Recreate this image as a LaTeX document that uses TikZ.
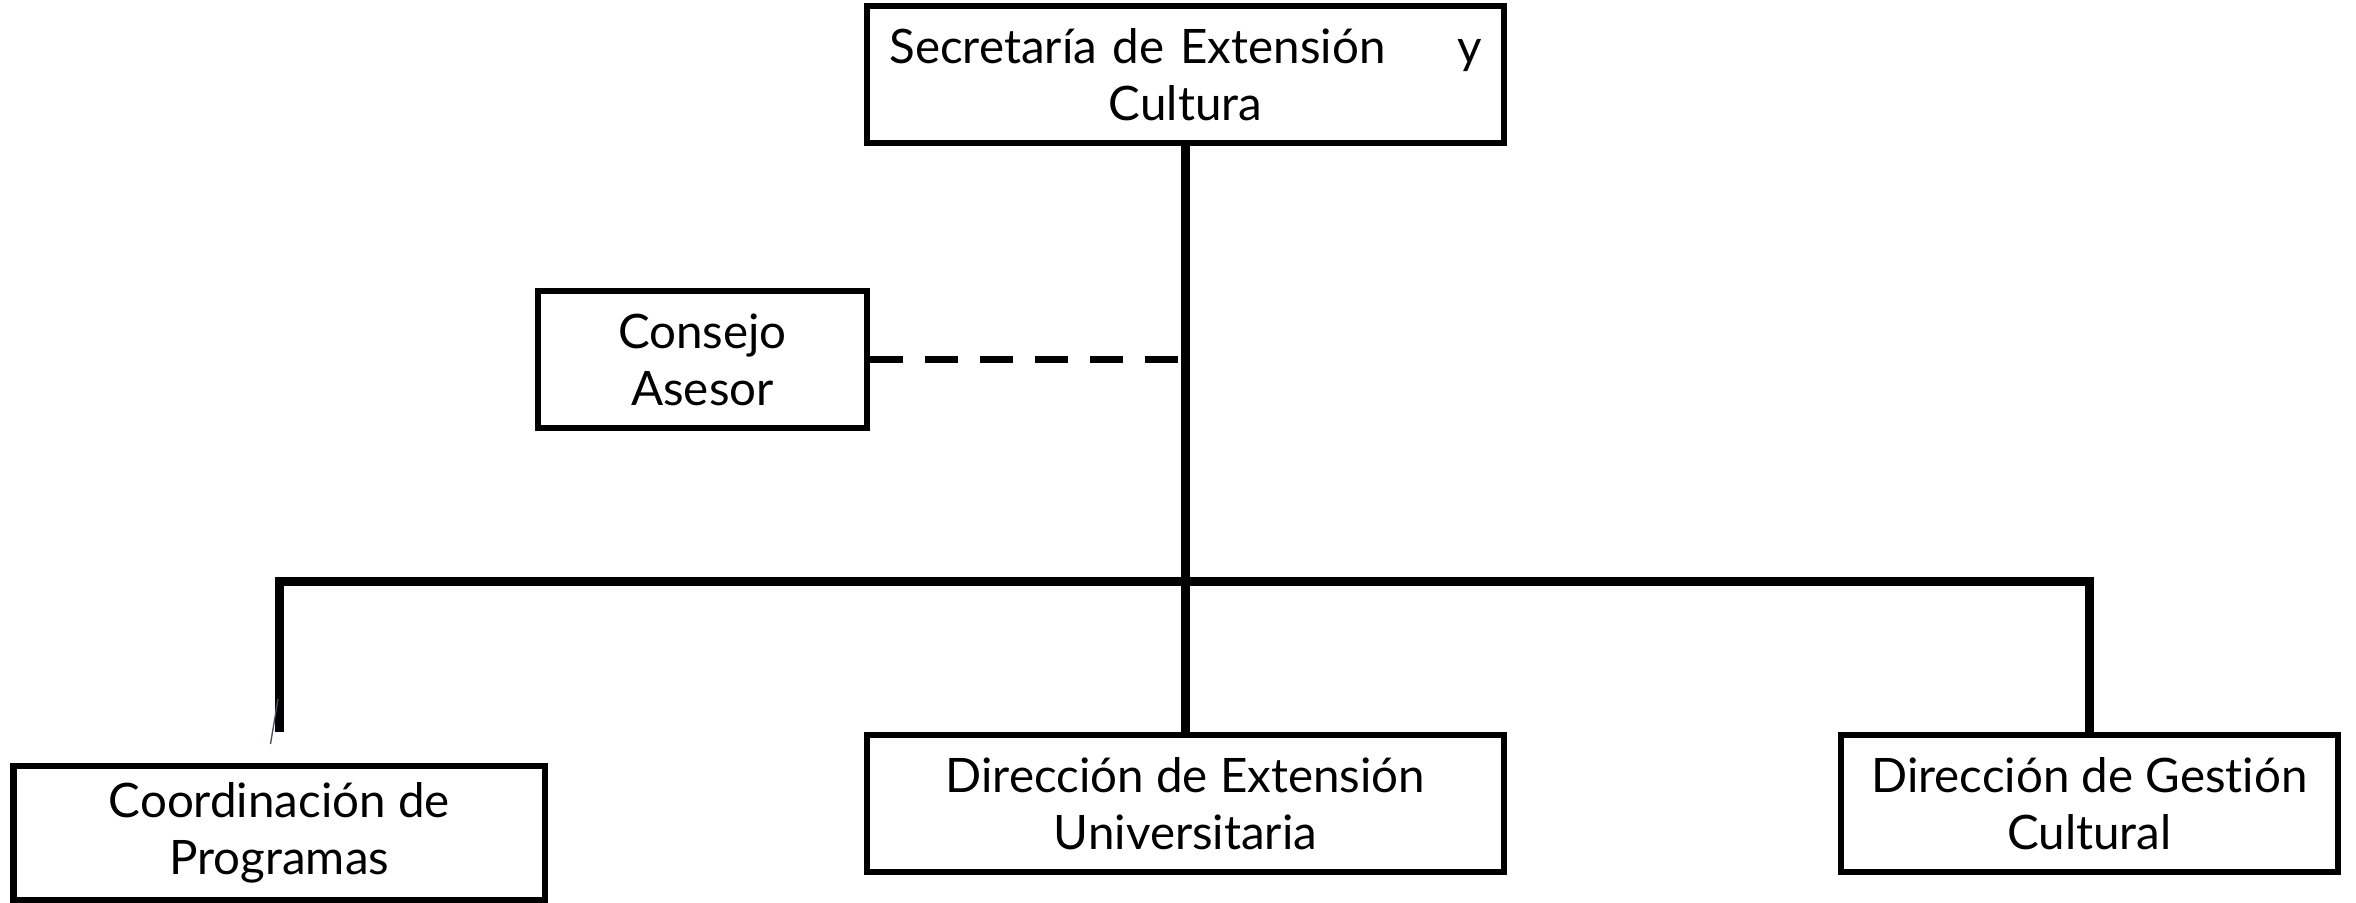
\documentclass[tikz,border=0pt]{standalone}
\usepackage{fontspec}
\setmainfont{Lato}[Ligatures=NoCommon]
\begin{document}
\begin{tikzpicture}[x=0.3pt,y=-0.3pt,
  orgbox/.style={draw=black,line width=2pt,inner sep=0pt,align=center,
    font=\fontsize{14.25pt}{17.1pt}\selectfont},
  conn/.style={draw=black,line width=2.7pt},
  dashconn/.style={draw=black,line width=2.3pt,dash pattern=on 9.9pt off 6.6pt}]
\useasboundingbox (0,0) rectangle (2356,903);
\node[orgbox,minimum width=191.1pt,minimum height=41.1pt,text width=177.6pt] (top) at (1185.5,74.5) {Secretaría de Extensión\hfill y\\Cultura};
\node[orgbox,minimum width=98.7pt,minimum height=41.1pt] (cons) at (702.5,359.5) {Consejo\\Asesor};
\node[orgbox,minimum width=159.45pt,minimum height=40.2pt] (coord) at (279.3,833) {Coordinación de\\Programas};
\node[orgbox,minimum width=191.1pt,minimum height=41.1pt] (dext) at (1185.5,803.5) {Dirección de Extensión\\Universitaria};
\node[orgbox,minimum width=149.1pt,minimum height=41.1pt] (gest) at (2089.5,803.5) {Dirección de Gestión\\Cultural};
\coordinate (bus) at (1185.5,581.5);
\coordinate (lend) at (279.5,732);
\draw[conn] (top.south) -- (dext.north);
\draw[conn,line join=miter] (lend) -- (bus -| lend) -- (bus -| gest.north) -- (gest.north);
\draw[dashconn] (cons.east) -- (cons.east -| top.south);
\draw[draw={rgb,255:red,70;green,80;blue,100},line width=0.4pt] (270.5,744) -- (278,699);
\end{tikzpicture}
\end{document}
